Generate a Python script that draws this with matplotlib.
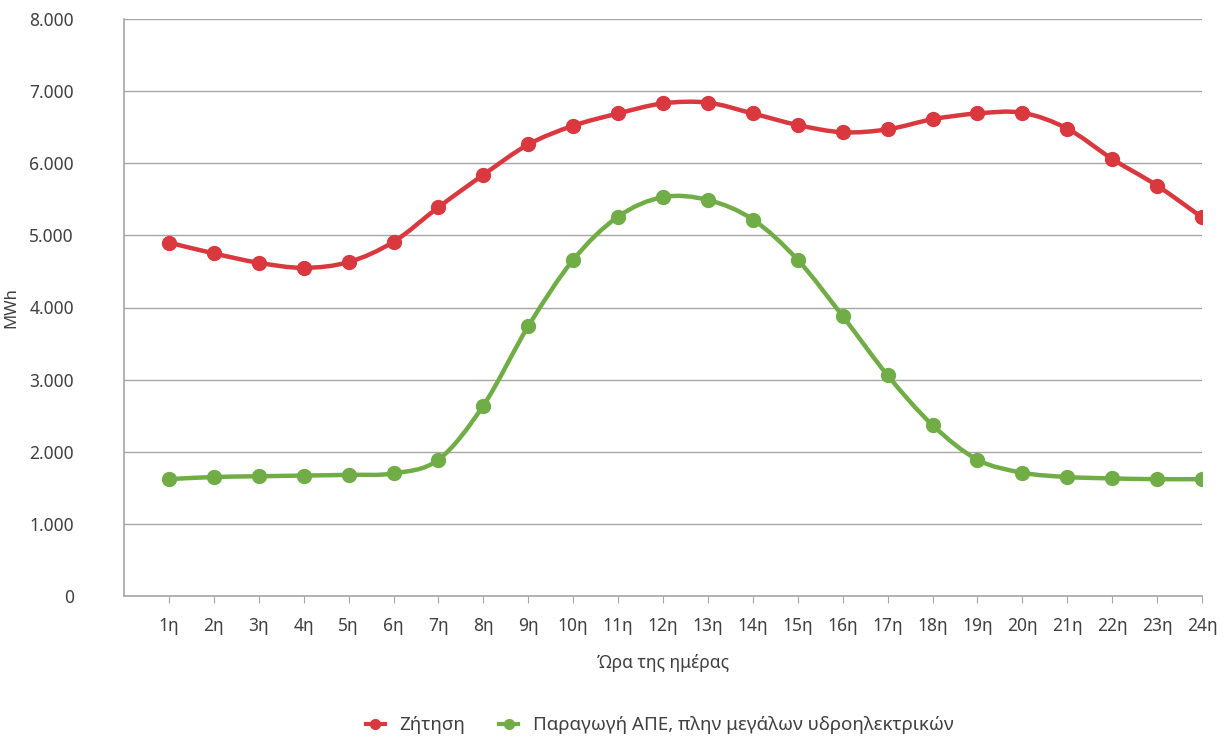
import matplotlib
matplotlib.use('Agg')
import matplotlib.pyplot as plt
from matplotlib.path import Path
from matplotlib.patches import PathPatch
from matplotlib.lines import Line2D
from matplotlib.ticker import FuncFormatter, MultipleLocator

plt.rcParams['font.family'] = ['Noto Sans', 'DejaVu Sans']

# hours of the day (category labels)
hours = ['%dη' % h for h in range(1, 25)]

# demand (MWh)
demand = [4900, 4750, 4620, 4550, 4630, 4910, 5390, 5840, 6260, 6520, 6690, 6830,
          6840, 6690, 6530, 6430, 6470, 6610, 6690, 6700, 6480, 6060, 5690, 5250]

# RES production excl. large hydro (MWh)
res = [1620, 1650, 1660, 1670, 1680, 1700, 1890, 2640, 3740, 4660, 5260, 5530,
       5490, 5220, 4660, 3880, 3060, 2370, 1890, 1710, 1650, 1630, 1620, 1620]

demand_label = 'Ζήτηση'
res_label = 'Παραγωγή ΑΠΕ, πλην μεγάλων υδροηλεκτρικών'

RED = '#d9383f'
GREEN = '#70ad47'
TEXT = '#404040'
GRID = '#a6a6a6'


def smooth_path(xs, ys):
    """Excel-like smoothed line: cubic Bezier segments through the points."""
    verts = [(xs[0], ys[0])]
    codes = [Path.MOVETO]
    n = len(xs)
    for i in range(n - 1):
        x0, y0 = (xs[i - 1], ys[i - 1]) if i > 0 else (xs[i], ys[i])
        x1, y1 = xs[i], ys[i]
        x2, y2 = xs[i + 1], ys[i + 1]
        x3, y3 = (xs[i + 2], ys[i + 2]) if i + 2 < n else (x2, y2)
        c1 = (x1 + (x2 - x0) / 6.0, y1 + (y2 - y0) / 6.0)
        c2 = (x2 - (x3 - x1) / 6.0, y2 - (y3 - y1) / 6.0)
        verts += [c1, c2, (x2, y2)]
        codes += [Path.CURVE4] * 3
    return Path(verts, codes)


fig = plt.figure(figsize=(12.24, 7.4), dpi=100)
ax = fig.add_axes([124 / 1224, 1 - 596 / 740, (1202 - 124) / 1224, (596 - 19) / 740])

xs = list(range(1, len(hours) + 1))
for ys, color in ((demand, RED), (res, GREEN)):
    ax.add_patch(PathPatch(smooth_path(xs, ys), facecolor='none', edgecolor=color,
                           linewidth=3.2, capstyle='round', joinstyle='round', zorder=3))
    ax.plot(xs, ys, linestyle='none', marker='o', markersize=10, color=color, zorder=4)

ax.set_xlim(0, 24)
ax.set_ylim(0, 8000)
ax.yaxis.set_major_locator(MultipleLocator(1000))
ax.yaxis.set_major_formatter(FuncFormatter(lambda v, p: f'{int(v):,}'.replace(',', '.')))
ax.set_xticks(xs)
ax.set_xticklabels(hours)

ax.grid(axis='y', color=GRID, linewidth=1)
ax.set_axisbelow(True)
for side in ('top', 'right'):
    ax.spines[side].set_visible(False)
for side in ('left', 'bottom'):
    ax.spines[side].set_color(GRID)
    ax.spines[side].set_linewidth(1.2)

ax.tick_params(axis='y', length=0, pad=36, labelsize=12.5, labelcolor=TEXT)
ax.tick_params(axis='x', length=5, color=GRID, pad=10, labelsize=12.5, labelcolor=TEXT)
for lbl in ax.get_yticklabels():
    lbl.set_horizontalalignment('right')

ax.set_ylabel('MWh', fontsize=12, color=TEXT, labelpad=10)
ax.yaxis.set_label_coords(-0.097, 0.5)
ax.set_xlabel('Ώρα της ημέρας', fontsize=12.5, color=TEXT, labelpad=14)

handles = [Line2D([], [], color=RED, linewidth=3, marker='o', markersize=7),
           Line2D([], [], color=GREEN, linewidth=3, marker='o', markersize=7)]
fig.legend(handles, [demand_label, res_label], loc='center', bbox_to_anchor=(0.539, 0.02),
           ncol=2, frameon=False, fontsize=13.5, labelcolor=TEXT, handlelength=1.0,
           columnspacing=1.8, handletextpad=0.8)

fig.savefig('out.png', dpi=100)
